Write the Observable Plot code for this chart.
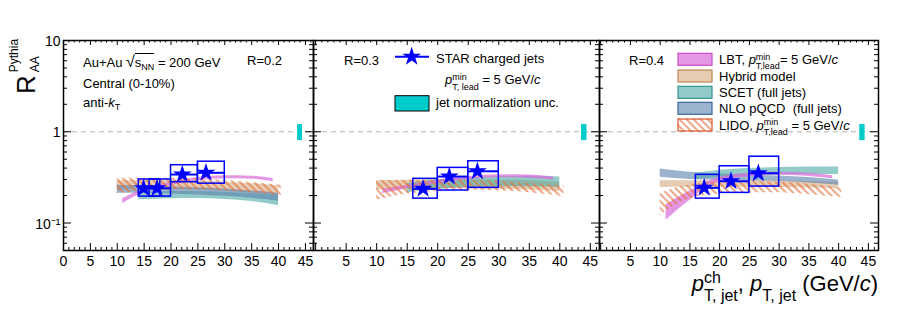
<!DOCTYPE html>
<html><head><meta charset="utf-8">
<script src="https://cdn.jsdelivr.net/npm/d3@7"></script>
<script src="https://cdn.jsdelivr.net/npm/@observablehq/plot@0.6"></script>
<style>
body{margin:0;background:#fff}
#wrap{position:relative;width:915px;height:310px;overflow:hidden;font-family:"Liberation Sans",Arial,Helvetica,sans-serif;color:#000;background:#fff}
.pn{position:absolute;top:0}
.t{position:absolute;white-space:nowrap;line-height:1;font-size:13px}
.ss{display:inline-block;position:relative;font-size:9px;line-height:1}
.ss .dn{position:relative;top:.7em}
.ss .up{position:absolute;left:0;top:-.45em}
.ss.rev .up{position:relative;top:-1.45em}
.ss.rev .dn{position:absolute;left:0;top:.3em}
sub{font-size:9px;vertical-align:-3px;line-height:1}
i{font-style:italic}
</style></head><body>
<svg width="0" height="0" style="position:absolute"><defs>
<pattern id="hatch" width="5" height="5" patternUnits="userSpaceOnUse" patternTransform="rotate(-45)"><line x1="1" y1="0" x2="1" y2="5" stroke="#e6703c" stroke-width="1.25"/></pattern>
</defs></svg>
<div id="wrap">
  <div id="p1" class="pn" style="left:0"></div>
  <div id="p2" class="pn" style="left:313px"></div>
  <div id="p3" class="pn" style="left:599px"></div>
  <svg id="ov" width="915" height="310" style="position:absolute;left:0;top:0;pointer-events:none"></svg>

  <div class="t" style="left:83px;top:54px">Au+Au <span style="font-size:16px">√</span><span style="border-top:1px solid #000;padding-top:1px">s<sub>NN</sub></span> = 200 GeV</div>
  <div class="t" style="left:247px;top:54px">R=0.2</div>
  <div class="t" style="left:83px;top:77px">Central (0-10%)</div>
  <div class="t" style="left:83px;top:96px">anti-<i>k</i><sub>T</sub></div>

  <div class="t" style="left:344px;top:54px">R=0.3</div>
  <div class="t" style="left:436px;top:52px">STAR charged jets</div>
  <div class="t" style="left:445px;top:73px"><i>p</i><span class="ss"><span class="up">min</span><span class="dn">T, lead</span></span> = 5 GeV/<i>c</i></div>
  <div class="t" style="left:436px;top:96px">jet normalization unc.</div>

  <div class="t" style="left:629px;top:54px">R=0.4</div>
  <div class="t" style="left:719px;top:52.8px">LBT, <i>p</i><span class="ss"><span class="up">min</span><span class="dn" style="top:.55em">T,lead</span></span>= 5 GeV/<i>c</i></div>
  <div class="t" style="left:719px;top:69.5px">Hybrid model</div>
  <div class="t" style="left:719px;top:85.8px">SCET (full jets)</div>
  <div class="t" style="left:719px;top:101.8px">NLO pQCD &nbsp;(full jets)</div>
  <div class="t" style="left:719px;top:118.5px">LIDO, <i>p</i><span class="ss"><span class="up">min</span><span class="dn" style="top:.6em">T,lead</span></span> = 5 GeV/<i>c</i></div>

  <div class="t" style="right:37px;top:273px;font-size:22px"><i>p</i><span class="ss" style="font-size:16px"><span class="up" style="top:-.5em">ch</span><span class="dn" style="top:.62em">T, jet</span></span>, <i>p</i><span class="ss" style="font-size:16px"><span class="dn" style="top:.62em">T, jet</span></span> (GeV/<i>c</i>)</div>

  <div class="t" style="left:13px;top:94px;font-size:26px;transform:rotate(-90deg);transform-origin:0 0">R<span class="ss rev" style="font-size:12px;margin-left:3px"><span class="up">Pythia</span><span class="dn">AA</span></span></div>
</div>
<script>
// ---------------- axis ticks ----------------
const xLabelsLeft = [0,5,10,15,20,25,30,35,40,45];
const xLabelsOther = [5,10,15,20,25,30,35,40,45];
const xMajorTicks = [0,5,10,15,20,25,30,35,40,45];
const xMinorTicks = [1,2,3,4,6,7,8,9,11,12,13,14,16,17,18,19,21,22,23,24,26,27,28,29,31,32,33,34,36,37,38,39,41,42,43,44,46];
const yMajorTicks = [0.1, 1, 10];
const yMinorTicks = [0.06,0.07,0.08,0.09,0.2,0.3,0.4,0.5,0.6,0.7,0.8,0.9,2,3,4,5,6,7,8,9];
const yLabelValues = [0.1, 1, 10];
const yLabelTexts = ["10\u207B\u00B9", "1", "10"];

// ---------------- STAR data ----------------
const starR02_pt    = [14.9, 17.4, 22.1, 26.5];
const starR02_raa   = [0.24, 0.24, 0.34, 0.355];
const starR02_binLo = [14, 16, 20, 25];
const starR02_binHi = [18, 20, 25, 30];
const starR02_sysLo = [0.195, 0.195, 0.28, 0.27];
const starR02_sysHi = [0.30, 0.30, 0.43, 0.47];

const starR03_pt    = [17.6, 21.9, 26.5];
const starR03_raa   = [0.237, 0.323, 0.369];
const starR03_binLo = [16, 20, 25];
const starR03_binHi = [20, 25, 30];
const starR03_sysLo = [0.185, 0.227, 0.243];
const starR03_sysHi = [0.305, 0.402, 0.475];

const starR04_pt    = [17.4, 21.9, 26.5];
const starR04_raa   = [0.243, 0.287, 0.351];
const starR04_binLo = [16, 20, 25];
const starR04_binHi = [20, 25, 30];
const starR04_sysLo = [0.185, 0.214, 0.251];
const starR04_sysHi = [0.337, 0.419, 0.533];

// normalization uncertainty bar [x1, x2, y1, y2]
const normBar = [43.55, 44.45, 0.8, 1.2];

// ---------------- theory bands: [pT, low, high] ----------------
const lbtR02 = [[11,0.163,0.185],[13,0.19,0.21],[15,0.215,0.236],[20,0.258,0.282],[25,0.29,0.315],[30,0.305,0.33],[35,0.302,0.326],[39,0.284,0.308]];
const hybridR02 = [[10,0.23,0.29],[15,0.232,0.292],[20,0.232,0.29],[25,0.228,0.287],[30,0.222,0.28],[35,0.213,0.27],[40,0.198,0.255]];
const scetR02 = [[14,0.18,0.215],[20,0.185,0.222],[25,0.186,0.222],[30,0.181,0.218],[35,0.172,0.21],[40,0.155,0.2]];
const nloR02 = [[10,0.212,0.26],[15,0.212,0.256],[20,0.208,0.25],[25,0.203,0.244],[30,0.196,0.236],[35,0.187,0.225],[40,0.173,0.212]];
const lidoR02 = [[10,0.21,0.31],[15,0.225,0.31],[20,0.232,0.31],[25,0.232,0.303],[30,0.226,0.292],[35,0.215,0.278],[40.5,0.2,0.26]];

const lbtR03 = [[11,0.21,0.235],[15,0.238,0.26],[20,0.27,0.295],[25,0.298,0.323],[30,0.313,0.338],[35,0.31,0.335],[39,0.296,0.32]];
const hybridR03 = [[10,0.23,0.29],[15,0.235,0.295],[20,0.238,0.3],[25,0.238,0.3],[30,0.235,0.297],[35,0.23,0.29],[40,0.222,0.282]];
const scetR03 = [[15,0.215,0.27],[20,0.235,0.298],[25,0.245,0.313],[30,0.25,0.322],[35,0.25,0.325],[40,0.245,0.32]];
const lidoR03 = [[10,0.178,0.29],[15,0.208,0.292],[20,0.222,0.295],[25,0.228,0.293],[30,0.225,0.285],[35,0.215,0.272],[40.7,0.195,0.255]];

const lbtR04 = [[11,0.107,0.16],[13,0.14,0.19],[15,0.178,0.225],[17,0.225,0.265],[20,0.285,0.318],[25,0.322,0.352],[30,0.333,0.36],[35,0.323,0.35],[39,0.305,0.33]];
const hybridR04 = [[10,0.245,0.29],[15,0.246,0.29],[20,0.246,0.29],[25,0.246,0.29],[30,0.245,0.288],[35,0.242,0.285],[40,0.238,0.28]];
const scetR04 = [[16,0.30,0.35],[20,0.318,0.378],[25,0.33,0.395],[30,0.337,0.405],[35,0.34,0.41],[40,0.34,0.41]];
const nloR04 = [[10,0.318,0.39],[15,0.3,0.36],[20,0.294,0.345],[25,0.29,0.336],[30,0.285,0.328],[35,0.275,0.316],[40,0.26,0.297]];
const lidoR04 = [[10,0.12,0.21],[12,0.15,0.235],[15,0.185,0.262],[20,0.208,0.28],[25,0.215,0.285],[30,0.215,0.28],[35,0.205,0.266],[40.5,0.19,0.24]];

// ---------------- styles ----------------
const STY = {
  lbt:    {fill:"#d86bd8", op:0.7,  stroke:"#cc4ccc"},
  hybrid: {fill:"#d4aa80", op:0.6,  stroke:"#c08850"},
  scet:   {fill:"#4aa8a3", op:0.6,  stroke:"#2f9590"},
  nlo:    {fill:"#5a80ae", op:0.6,  stroke:"#3a66a0"},
  lido:   {fill:"url(#hatch)", op:1, stroke:"#e0502a"}
};
const STAR_BLUE = "#0000ff";
const NORM_CYAN = "#00cccc";
const STAR_R = 5.9;

function zipStar(pt, raa, lo, hi, slo, shi) {
  return pt.map((p, i) => ({pt: p, raa: raa[i], lo: lo[i], hi: hi[i], slo: slo[i], shi: shi[i]}));
}

function panel({width, marginLeft, domain, bands, star, xLabels, yLabels}) {
  const H = 310, mt = 40, mb = 60;
  const fh = H - mt - mb, fw = width - marginLeft;
  const marks = [
    Plot.ruleY([1], {stroke: "#b4b4b4", strokeDasharray: "5,4", strokeWidth: 1.2})
  ];
  for (const [key, data] of bands) {
    const s = STY[key];
    marks.push(Plot.areaY(data, {x: d => d[0], y1: d => d[1], y2: d => d[2], fill: s.fill, fillOpacity: s.op, curve: "monotone-x"}));
  }
  marks.push(Plot.rect([normBar], {x1: d => d[0], x2: d => d[1], y1: d => d[2], y2: d => d[3], fill: NORM_CYAN}));
  marks.push(Plot.rect(star, {x1: "lo", x2: "hi", y1: "slo", y2: "shi", fill: "none", stroke: STAR_BLUE, strokeWidth: 1.5}));
  marks.push(Plot.ruleY(star, {y: "raa", x1: "lo", x2: "hi", stroke: STAR_BLUE, strokeWidth: 2}));
  marks.push(Plot.dot(star, {x: "pt", y: "raa", symbol: "star", r: STAR_R, fill: STAR_BLUE, stroke: "none"}));
  // ticks (inward, all four sides)
  marks.push(Plot.tickX(xMajorTicks, {x: d => d, insetTop: fh - 7, stroke: "#000"}));
  marks.push(Plot.tickX(xMinorTicks, {x: d => d, insetTop: fh - 3, stroke: "#000"}));
  marks.push(Plot.tickX(xMajorTicks, {x: d => d, insetBottom: fh - 5, stroke: "#000"}));
  marks.push(Plot.tickX(xMinorTicks, {x: d => d, insetBottom: fh - 2.5, stroke: "#000"}));
  marks.push(Plot.tickY(yMajorTicks, {y: d => d, insetRight: fw - 8, stroke: "#000"}));
  marks.push(Plot.tickY(yMinorTicks, {y: d => d, insetRight: fw - 4, stroke: "#000"}));
  marks.push(Plot.tickY(yMajorTicks, {y: d => d, insetLeft: fw - 8, stroke: "#000"}));
  marks.push(Plot.tickY(yMinorTicks, {y: d => d, insetLeft: fw - 4, stroke: "#000"}));
  marks.push(Plot.frame({stroke: "#000", strokeWidth: 1.5}));
  marks.push(Plot.text(xLabels, {x: d => d, text: d => String(d), frameAnchor: "bottom", lineAnchor: "top", dy: 6, fontSize: 14, fill: "#000"}));
  if (yLabels) {
    marks.push(Plot.text(yLabelValues, {y: d => d, text: (d, i) => yLabelTexts[i], frameAnchor: "left", textAnchor: "end", dx: -3, dy: 1, fontSize: 14, fill: "#000"}));
  }
  return Plot.plot({
    width, height: H, marginLeft, marginRight: 0, marginTop: mt, marginBottom: mb,
    x: {domain, axis: null},
    y: {type: "log", domain: [0.05, 10], axis: null},
    style: {fontFamily: '"Liberation Sans", Arial, sans-serif', fontSize: "14px", overflow: "visible", background: "none", color: "#000"},
    marks
  });
}

document.getElementById("p1").append(panel({
  width: 313, marginLeft: 63, domain: [0, 46.5], xLabels: xLabelsLeft, yLabels: true,
  bands: [["hybrid", hybridR02], ["scet", scetR02], ["nlo", nloR02], ["lbt", lbtR02], ["lido", lidoR02]],
  star: zipStar(starR02_pt, starR02_raa, starR02_binLo, starR02_binHi, starR02_sysLo, starR02_sysHi)
}));
document.getElementById("p2").append(panel({
  width: 286, marginLeft: 0, domain: [-0.35, 46.5], xLabels: xLabelsOther, yLabels: false,
  bands: [["hybrid", hybridR03], ["scet", scetR03], ["lbt", lbtR03], ["lido", lidoR03]],
  star: zipStar(starR03_pt, starR03_raa, starR03_binLo, starR03_binHi, starR03_sysLo, starR03_sysHi)
}));
document.getElementById("p3").append(panel({
  width: 279, marginLeft: 0, domain: [-0.2, 46.7], xLabels: xLabelsOther, yLabels: false,
  bands: [["hybrid", hybridR04], ["nlo", nloR04], ["scet", scetR04], ["lbt", lbtR04], ["lido", lidoR04]],
  star: zipStar(starR04_pt, starR04_raa, starR04_binLo, starR04_binHi, starR04_sysLo, starR04_sysHi)
}));

// ---------------- legend symbols ----------------
const ov = d3.select("#ov");
ov.append("line").attr("x1", 395).attr("x2", 429).attr("y1", 56.7).attr("y2", 56.7).attr("stroke", STAR_BLUE).attr("stroke-width", 2);
ov.append("path").attr("d", d3.symbol(d3.symbolStar, Math.PI * STAR_R * STAR_R)()).attr("transform", "translate(411.7,56.7)").attr("fill", STAR_BLUE);
ov.append("rect").attr("x", 395).attr("y", 95.7).attr("width", 34).attr("height", 15.3).attr("fill", NORM_CYAN).attr("stroke", "#000").attr("stroke-width", 1);
const legendKeys = ["lbt", "hybrid", "scet", "nlo", "lido"];
const legendRowY = [59.3, 76, 92.3, 108.3, 125];
legendKeys.forEach((k, i) => {
  const s = STY[k];
  ov.append("rect").attr("x", 678).attr("y", legendRowY[i] - 6).attr("width", 34).attr("height", 12)
    .attr("fill", s.fill).attr("fill-opacity", s.op).attr("stroke", s.stroke).attr("stroke-width", 1.2);
});
</script>
</body></html>
